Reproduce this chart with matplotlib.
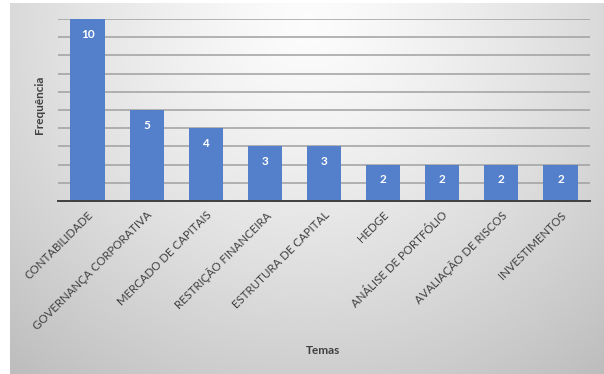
import numpy as np
import matplotlib
matplotlib.use("Agg")
import matplotlib.pyplot as plt

categories = ["CONTABILIDADE", "GOVERNANÇA CORPORATIVA", "MERCADO DE CAPITAIS",
              "RESTRIÇÃO FINANCEIRA", "ESTRUTURA DE CAPITAL", "HEDGE",
              "ANÁLISE DE PORTFÓLIO", "AVALIAÇÃO DE RISCOS", "INVESTIMENTOS"]
values = [10, 5, 4, 3, 3, 2, 2, 2, 2]

W, H = 604, 374
fig = plt.figure(figsize=(W / 100, H / 100), dpi=100)
fig.patch.set_facecolor("white")

# gradient background panel
bg = fig.add_axes([10 / W, 0, 1 - 10 / W, 1 - 3 / H])
bg.set_axis_off()
ny, nx = 200, 300
yy, xx = np.mgrid[0:ny, 0:nx]
cx, cy = nx * 0.5, ny * 0.05
d = np.sqrt(((xx - cx) / (nx * 0.72)) ** 2 + ((yy - cy) / (ny * 1.1)) ** 2)
shade = 0.99 - 0.22 * np.clip(d, 0, 1.2) ** 1.3
img = np.dstack([shade, shade, shade])
bg.imshow(img, aspect="auto", extent=[0, 1, 0, 1], origin="upper", interpolation="bilinear")
bg.set_xlim(0, 1)
bg.set_ylim(0, 1)

font = "Lato"
text_color = "#404040"

ax = fig.add_axes([58 / W, (H - 201) / H, (590 - 58) / W, (201 - 19) / H])
ax.patch.set_alpha(0)
x = np.arange(len(categories))
bars = ax.bar(x, values, width=0.58, color="#5480CB", zorder=3)
ax.set_xlim(-0.5, len(categories) - 0.5)
ax.set_ylim(0, 10)
ax.set_yticks(np.arange(0, 11, 1))
ax.yaxis.grid(True, color="#a0a0a0", linewidth=1.1, zorder=0)
ax.tick_params(axis="y", length=0, labelleft=False)
ax.tick_params(axis="x", length=0, pad=6)
for s in ["top", "right", "left"]:
    ax.spines[s].set_visible(False)
ax.spines["bottom"].set_color("#404040")
ax.spines["bottom"].set_linewidth(1.4)
ax.spines["bottom"].set_zorder(4)

ax.set_xticks(x)
ax.set_xticklabels(categories, rotation=45, ha="right", rotation_mode="anchor",
                   fontsize=8.3, color=text_color, family=font)
for lbl in ax.get_xticklabels():
    lbl.set_x(lbl.get_position()[0])

for xi, v in zip(x, values):
    ax.annotate(str(v), (xi, v), xytext=(0, -11), textcoords="offset points",
                ha="center", va="center", color="white", fontsize=8.5,
                fontweight="bold", family=font, zorder=5)

fig.text(40 / W, 1 - 105 / H, "Frequência", rotation=90, ha="center", va="center",
         fontsize=8.5, fontweight="bold", color=text_color, family=font)
fig.text(323 / W, 1 - 351 / H, "Temas", ha="center", va="center",
         fontsize=8.5, fontweight="bold", color=text_color, family=font)

fig.savefig("out.png", dpi=100, facecolor=fig.get_facecolor())
